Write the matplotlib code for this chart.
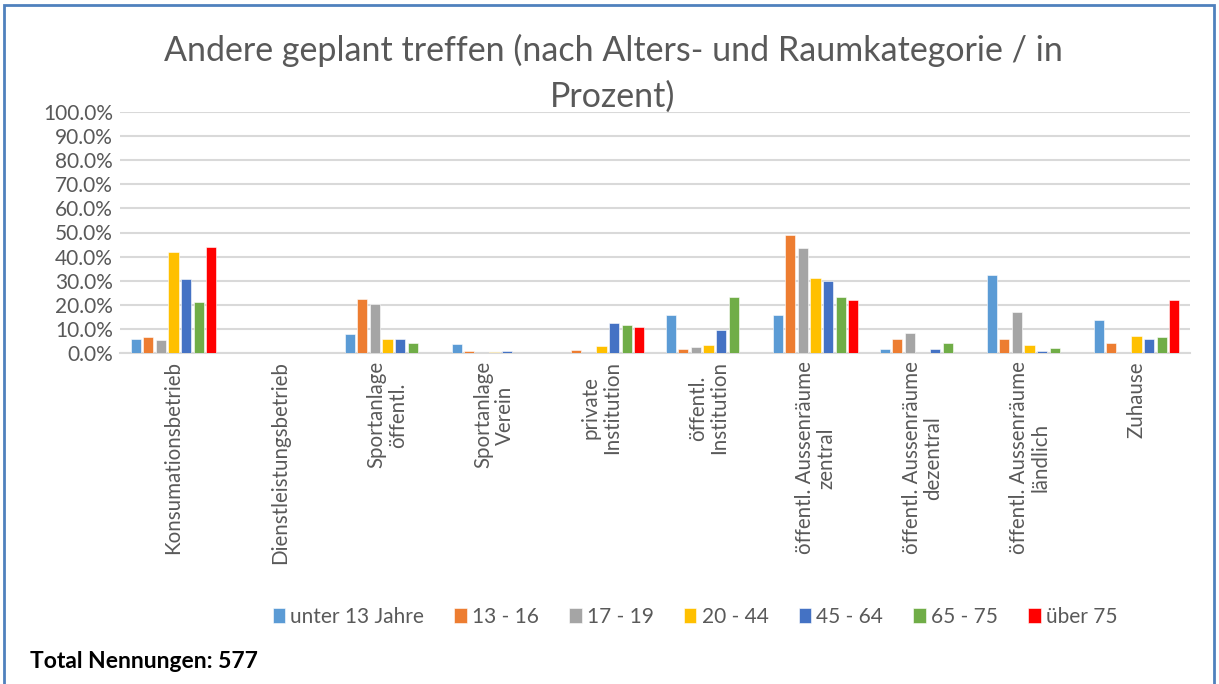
import matplotlib
matplotlib.use("Agg")
import matplotlib.pyplot as plt
import numpy as np
from matplotlib.patches import Rectangle

plt.rcParams["font.family"] = ["Lato", "DejaVu Sans"]

categories = ["Konsumationsbetrieb", "Dienstleistungsbetrieb", "Sportanlage\nöffentl.",
              "Sportanlage\nVerein", "private\nInstitution", "öffentl.\nInstitution",
              "öffentl. Aussenräume\nzentral", "öffentl. Aussenräume\ndezentral",
              "öffentl. Aussenräume\nländlich", "Zuhause"]
series = ["unter 13 Jahre", "13 - 16", "17 - 19", "20 - 44", "45 - 64", "65 - 75", "über 75"]

unter13 = [5.8, 0, 7.8, 3.6, 0, 15.8, 15.8, 1.7, 32.2, 13.9]
a13_16 = [6.7, 0, 22.2, 0.7, 1.1, 1.5, 48.9, 5.7, 5.7, 4.3]
a17_19 = [5.6, 0, 20.3, 0, 0, 2.6, 43.6, 8.5, 17.2, 0]
a20_44 = [41.9, 0, 5.8, 0.3, 2.8, 3.5, 31.1, 0.2, 3.5, 7.2]
a45_64 = [30.6, 0, 5.7, 0.7, 12.6, 9.7, 29.7, 1.7, 0.7, 5.7]
a65_75 = [21.1, 0, 4.3, 0, 11.5, 23.3, 23.3, 4.3, 1.9, 6.7]
ueber75 = [44.0, 0, 0, 0, 10.7, 0, 21.8, 0, 0, 21.8]
values = [unter13, a13_16, a17_19, a20_44, a45_64, a65_75, ueber75]

colors = ["#5B9BD5", "#ED7D31", "#A5A5A5", "#FFC000", "#4472C4", "#70AD47", "#FF0000"]
TXT = "#595959"
GRID = "#D9D9D9"

W, H = 1219, 684
fig = plt.figure(figsize=(W / 100, H / 100), dpi=100)

# outer frame
fig.add_artist(Rectangle((4 / W, -0.05), (W - 9) / W, 1.05 - 5 / H, transform=fig.transFigure,
                         fill=False, edgecolor="#4F81BD", lw=2))

ax = fig.add_axes([120 / W, (H - 353) / H, 1070 / W, (353 - 112) / H])
x = np.arange(len(categories))
step = 0.117
bw = 0.094
for i, (name, vals, c) in enumerate(zip(series, values, colors)):
    ax.bar(x + (i - 3) * step, vals, bw, color=c, label=name, zorder=3,
           edgecolor="white", linewidth=0.4)

ax.set_xlim(-0.5, len(categories) - 0.5)
ax.set_ylim(0, 100)
ax.set_yticks(np.arange(0, 101, 10))
ax.set_yticklabels([f"{v:.1f}%" for v in np.arange(0, 101, 10)], fontsize=15, color=TXT)
ax.set_xticks(x)
ax.set_xticklabels(categories, rotation=90, fontsize=14.8, color=TXT,
                   ha="center", va="top", multialignment="center", linespacing=1.1)
ax.tick_params(length=0, pad=6)
ax.tick_params(axis="y", pad=5)
ax.grid(axis="y", color=GRID, lw=1.5, zorder=0)
for s in ["top", "right", "left"]:
    ax.spines[s].set_visible(False)
ax.spines["bottom"].set_color(GRID)
ax.spines["bottom"].set_linewidth(1.5)

fig.text(613 / W, 1 - 50 / H, "Andere geplant treffen (nach Alters- und Raumkategorie / in",
         ha="center", va="center", fontsize=24.5, color=TXT)
fig.text(613 / W, 1 - 97 / H, "Prozent)", ha="center", va="center", fontsize=24.5, color=TXT)

fig.legend(loc="center", bbox_to_anchor=(695 / W, 1 - 617 / H), ncol=7, frameon=False,
           fontsize=15, handlelength=0.6, handleheight=0.75, handletextpad=0.25,
           columnspacing=1.45, labelcolor=TXT)

fig.text(30 / W, 1 - 661 / H, "Total Nennungen: 577", ha="left", va="center",
         fontsize=16.5, fontweight="bold", color="black")

fig.savefig("out.png", dpi=100, facecolor="white")
